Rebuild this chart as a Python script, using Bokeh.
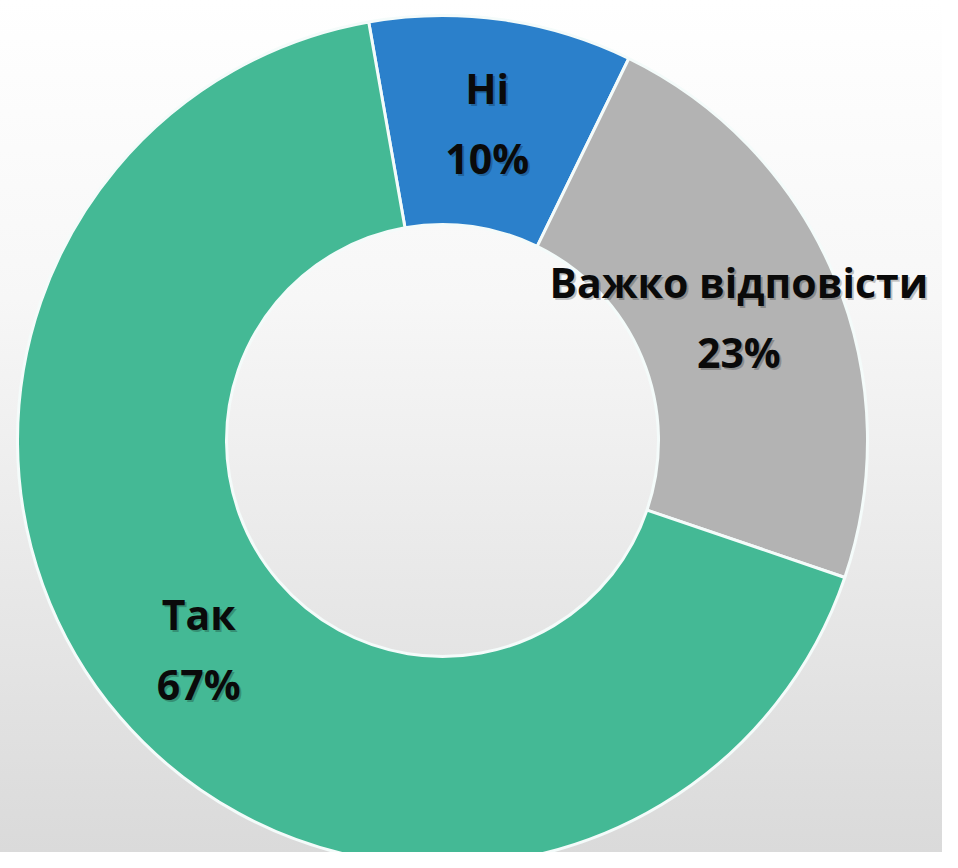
import math
from bokeh.plotting import figure
from bokeh.models import ColumnDataSource, Range1d
from bokeh.core.properties import value
from bokeh.embed import file_html
from bokeh.resources import INLINE

# ---- data ----
categories = ["Ні", "Важко відповісти", "Так"]
percents = [10, 23, 67]
colors = ["#2b80cb", "#b3b3b3", "#44b995"]

# ---- layout ----
W, H = 942, 852
start_deg = 100.0
outer_r, inner_r, label_r = 425, 216, 321

starts, ends, lx, ly, names, pcts = [], [], [], [], [], []
cum = 0.0
total = sum(percents)
for c, v in zip(categories, percents):
    a0 = math.radians(start_deg) - 2 * math.pi * cum / total
    a1 = a0 - 2 * math.pi * v / total
    starts.append(a0)
    ends.append(a1)
    mid = (a0 + a1) / 2
    lx.append(label_r * math.cos(mid))
    ly.append(label_r * math.sin(mid))
    names.append(c)
    pcts.append(f"{v}%")
    cum += v

src = ColumnDataSource(dict(start=starts, end=ends, color=colors,
                            x=[0] * 3, y=[0] * 3, lx=lx, ly=ly,
                            name=names, pct=pcts))

p = figure(width=W, height=H, output_backend="svg", toolbar_location=None,
           x_range=Range1d(-442, 500), y_range=Range1d(-412, 440),
           min_border=0)
p.axis.visible = False
p.grid.visible = False
p.outline_line_color = None
p.background_fill_alpha = 0
p.border_fill_alpha = 0
p.styles = {"background": "linear-gradient(180deg, #ffffff 0%, #f7f7f7 35%, #dadada 100%)"}

p.annular_wedge(x="x", y="y", inner_radius=inner_r, outer_radius=outer_r,
                start_angle="start", end_angle="end", direction="clock",
                fill_color="color", line_color="#f4fbfa", line_width=3,
                source=src)

font = value("Open Sans")
for dx, dy, col, alpha in [(2, -2, "#000000", 0.22), (0, 0, "#0a0a0a", 1.0)]:
    p.text(x="lx", y="ly", text="name", x_offset=dx, y_offset=-35 - dy,
           text_font=font, text_font_style="bold", text_font_size="41px",
           text_align="center", text_baseline="middle", text_color=col,
           text_alpha=alpha, source=src)
    p.text(x="lx", y="ly", text="pct", x_offset=dx, y_offset=35 - dy,
           text_font=font, text_font_style="bold", text_font_size="41px",
           text_align="center", text_baseline="middle", text_color=col,
           text_alpha=alpha, source=src)

open("out.html", "w").write(file_html(p, INLINE))
